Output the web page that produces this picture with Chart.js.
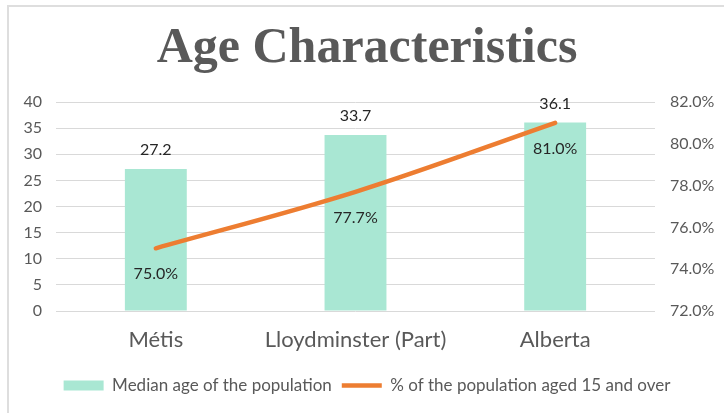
<!DOCTYPE html>
<html>
<head>
<meta charset="utf-8">
<script src="https://cdn.jsdelivr.net/npm/chart.js@4.4.1/dist/chart.umd.min.js"></script>
<style>
  html, body { margin: 0; padding: 0; background: #fff; }
  #wrap { position: absolute; left: 0; top: 0; width: 724px; height: 413px; }
  #frame { position: absolute; left: 7px; top: 5px; width: 740px; height: 430px;
           border-top: 2px solid #dedede; border-left: 2px solid #dedede; pointer-events: none; }
</style>
</head>
<body>
<div id="wrap"><canvas id="chart"></canvas></div>
<div id="frame"></div>
<script>
var categories = ["Métis", "Lloydminster (Part)", "Alberta"];
var medianAge = [27.2, 33.7, 36.1];
var pctAged15 = [75.0, 77.7, 81.0];
var seriesNames = ["Median age of the population", "% of the population aged 15 and over"];

var FONT = "Lato";

// draws the value labels: above the bars, under the line points
var valueLabels = {
    id: 'valueLabels',
    afterDatasetsDraw: function (chart) {
        var ctx = chart.ctx;
        ctx.save();
        ctx.font = "16px " + FONT;
        ctx.fillStyle = "#262626";
        ctx.textAlign = "center";
        ctx.textBaseline = "middle";
        chart.getDatasetMeta(0).data.forEach(function (bar, i) {
            ctx.fillText(medianAge[i].toFixed(1), bar.x, bar.y - 19);
        });
        chart.getDatasetMeta(1).data.forEach(function (pt, i) {
            ctx.fillText(pctAged15[i].toFixed(1) + "%", pt.x, pt.y + 26);
        });
        ctx.restore();
    }
};

var ctx = document.getElementById("chart");
var myChart = new Chart(ctx, {
    type: 'bar',
    data: {
        labels: categories,
        datasets: [
            {
                type: 'bar',
                label: seriesNames[0],
                data: medianAge,
                backgroundColor: "#A9E7D3",
                borderWidth: 0,
                barPercentage: 0.31,
                categoryPercentage: 1,
                yAxisID: 'y',
                pointStyle: 'rect',
                order: 2
            },
            {
                type: 'line',
                label: seriesNames[1],
                data: pctAged15,
                borderColor: "#ED7D31",
                backgroundColor: "#ED7D31",
                borderWidth: 4.5,
                borderCapStyle: 'round',
                tension: 0.35,
                pointRadius: 0,
                pointStyle: 'line',
                yAxisID: 'y1',
                order: 1
            }
        ]
    },
    options: {
        responsive: true,
        maintainAspectRatio: false,
        animation: false,
        layout: { padding: { top: 0, left: 10, right: 0, bottom: 9 } },
        plugins: {
            title: {
                display: true,
                text: "Age Characteristics",
                color: "#595959",
                font: { family: "Liberation Serif", size: 50, weight: 'bold' },
                padding: { top: 19, bottom: 23 }
            },
            legend: {
                position: 'bottom',
                labels: {
                    usePointStyle: true,
                    pointStyleWidth: 40,
                    boxHeight: 10,
                    padding: 10,
                    color: "#595959",
                    font: { family: FONT, size: 17 },
                    sort: function (a, b) { return a.datasetIndex - b.datasetIndex; }
                }
            },
            tooltip: { enabled: false }
        },
        scales: {
            x: {
                grid: { display: false, drawTicks: false },
                border: { display: false },
                ticks: { color: "#595959", font: { family: FONT, size: 22 }, padding: 16 },
                afterFit: function (scale) { scale.height = 56; }
            },
            y: {
                position: 'left',
                min: 0,
                max: 40,
                ticks: { stepSize: 5, color: "#595959", font: { family: FONT, size: 16 }, padding: 14 },
                grid: { color: "#d9d9d9", drawTicks: false, lineWidth: 1 },
                border: { display: false },
                afterFit: function (scale) { scale.width = 46; }
            },
            y1: {
                position: 'right',
                min: 72,
                max: 82,
                ticks: {
                    stepSize: 2, color: "#595959", font: { family: FONT, size: 16 }, padding: 15,
                    callback: function (v) { return v.toFixed(1) + "%"; }
                },
                grid: { display: false, drawTicks: false },
                border: { display: false },
                afterFit: function (scale) { scale.width = 69; }
            }
        }
    },
    plugins: [valueLabels]
});
</script>
</body>
</html>
